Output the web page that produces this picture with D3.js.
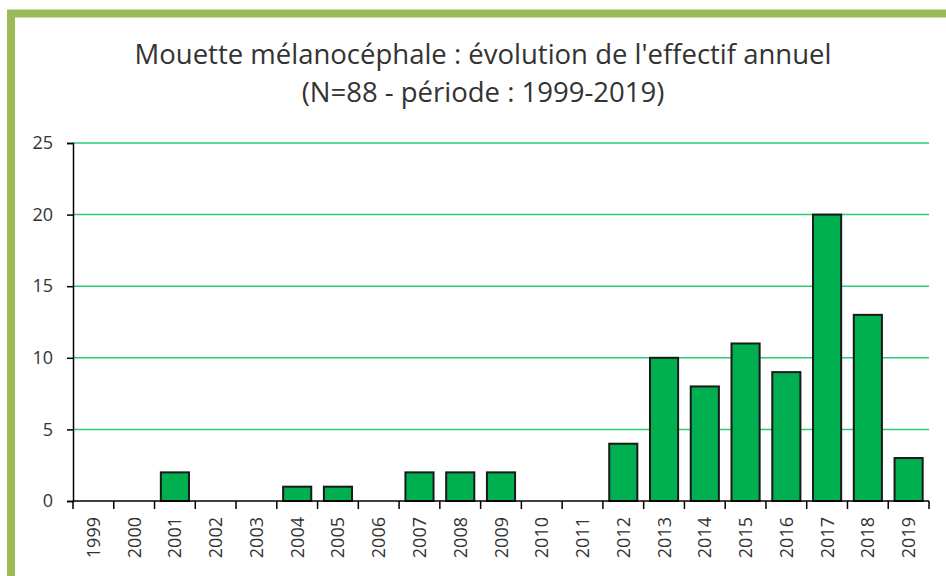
<!DOCTYPE html>
<html>
<head>
<meta charset="utf-8">
<script src="https://cdn.jsdelivr.net/npm/d3@7"></script>
<style>
  body { margin: 0; background: #fff; }
  svg { display: block; }
</style>
</head>
<body>
<div id="chart"></div>
<script>
var years = ["1999","2000","2001","2002","2003","2004","2005","2006","2007","2008","2009",
             "2010","2011","2012","2013","2014","2015","2016","2017","2018","2019"];
var counts = [0,0,2,0,0,1,1,0,2,2,2,0,0,4,10,8,11,9,20,13,3];
var yTicks = [0,5,10,15,20,25];
var titleLines = ["Mouette mélanocéphale : évolution de l'effectif annuel",
                  "(N=88 - période : 1999-2019)"];

var W = 946, H = 576;
var margin = {top: 143, right: 17, bottom: 75, left: 73};
var width = W - margin.left - margin.right,
    height = H - margin.top - margin.bottom;

var svg = d3.select("#chart").append("svg")
    .attr("width", W)
    .attr("height", H);

// green frame
svg.append("rect")
    .attr("x", 11).attr("y", 13.5)
    .attr("width", W).attr("height", H)
    .attr("fill", "#fff")
    .attr("stroke", "#9bbb59")
    .attr("stroke-width", 8);

svg.selectAll(".title")
    .data(titleLines)
    .enter().append("text")
    .attr("class", "title")
    .attr("x", 483)
    .attr("y", function(d, i) { return 64 + i * 38; })
    .attr("text-anchor", "middle")
    .style("font", "27.5px 'Open Sans', sans-serif")
    .attr("fill", "#333")
    .text(function(d) { return d; });

var g = svg.append("g")
    .attr("transform", "translate(" + margin.left + "," + margin.top + ")");

var xScale = d3.scaleBand().domain(years).range([0, width]).paddingInner(0).paddingOuter(0);
var yScale = d3.scaleLinear().domain([0, 25]).range([height, 0]);

// gridlines
g.selectAll(".grid")
    .data(yTicks.slice(1))
    .enter().append("line")
    .attr("class", "grid")
    .attr("x1", 0).attr("x2", width)
    .attr("y1", function(d) { return yScale(d); })
    .attr("y2", function(d) { return yScale(d); })
    .attr("stroke", "#2ecc71")
    .attr("stroke-width", 1.5);

var barData = years.map(function(y, i) { return {year: y, value: counts[i]}; })
    .filter(function(d) { return d.value > 0; });
var barW = xScale.bandwidth() * 0.69;
g.selectAll(".bar")
    .data(barData)
    .enter().append("rect")
    .attr("class", "bar")
    .attr("x", function(d) { return xScale(d.year) + (xScale.bandwidth() - barW) / 2; })
    .attr("y", function(d) { return yScale(d.value); })
    .attr("width", barW)
    .attr("height", function(d) { return height - yScale(d.value); })
    .attr("fill", "#00b050")
    .attr("stroke", "#1a1a1a")
    .attr("stroke-width", 2);

// y axis
var yAxis = d3.axisLeft(yScale).tickValues(yTicks).tickSize(6).tickPadding(14);
g.append("g")
    .attr("class", "axis axis--y")
    .call(yAxis)
    .call(function(s) {
        s.select(".domain").attr("stroke", "#000").attr("stroke-width", 1.5);
        s.selectAll(".tick line").attr("stroke", "#000").attr("stroke-width", 1.5);
        s.selectAll("text").style("font", "18px 'Open Sans', sans-serif").attr("fill", "#333");
    });

// x axis: ticks on band edges
var xAxisG = g.append("g")
    .attr("class", "axis axis--x")
    .attr("transform", "translate(0," + height + ")");
xAxisG.append("line")
    .attr("x1", 0).attr("x2", width)
    .attr("stroke", "#000").attr("stroke-width", 1.5);
xAxisG.selectAll(".xtick")
    .data(years.concat(["end"]))
    .enter().append("line")
    .attr("class", "xtick")
    .attr("x1", function(d, i) { return i * xScale.step(); })
    .attr("x2", function(d, i) { return i * xScale.step(); })
    .attr("y1", 0).attr("y2", 8)
    .attr("stroke", "#000").attr("stroke-width", 1.5);
xAxisG.selectAll(".xlabel")
    .data(years)
    .enter().append("text")
    .attr("class", "xlabel")
    .attr("transform", function(d) {
        return "translate(" + (xScale(d) + xScale.bandwidth() / 2 + 6.5) + ",16) rotate(-90)";
    })
    .attr("text-anchor", "end")
    .style("font", "18px 'Open Sans', sans-serif")
    .attr("fill", "#333")
    .text(function(d) { return d; });
</script>
</body>
</html>
